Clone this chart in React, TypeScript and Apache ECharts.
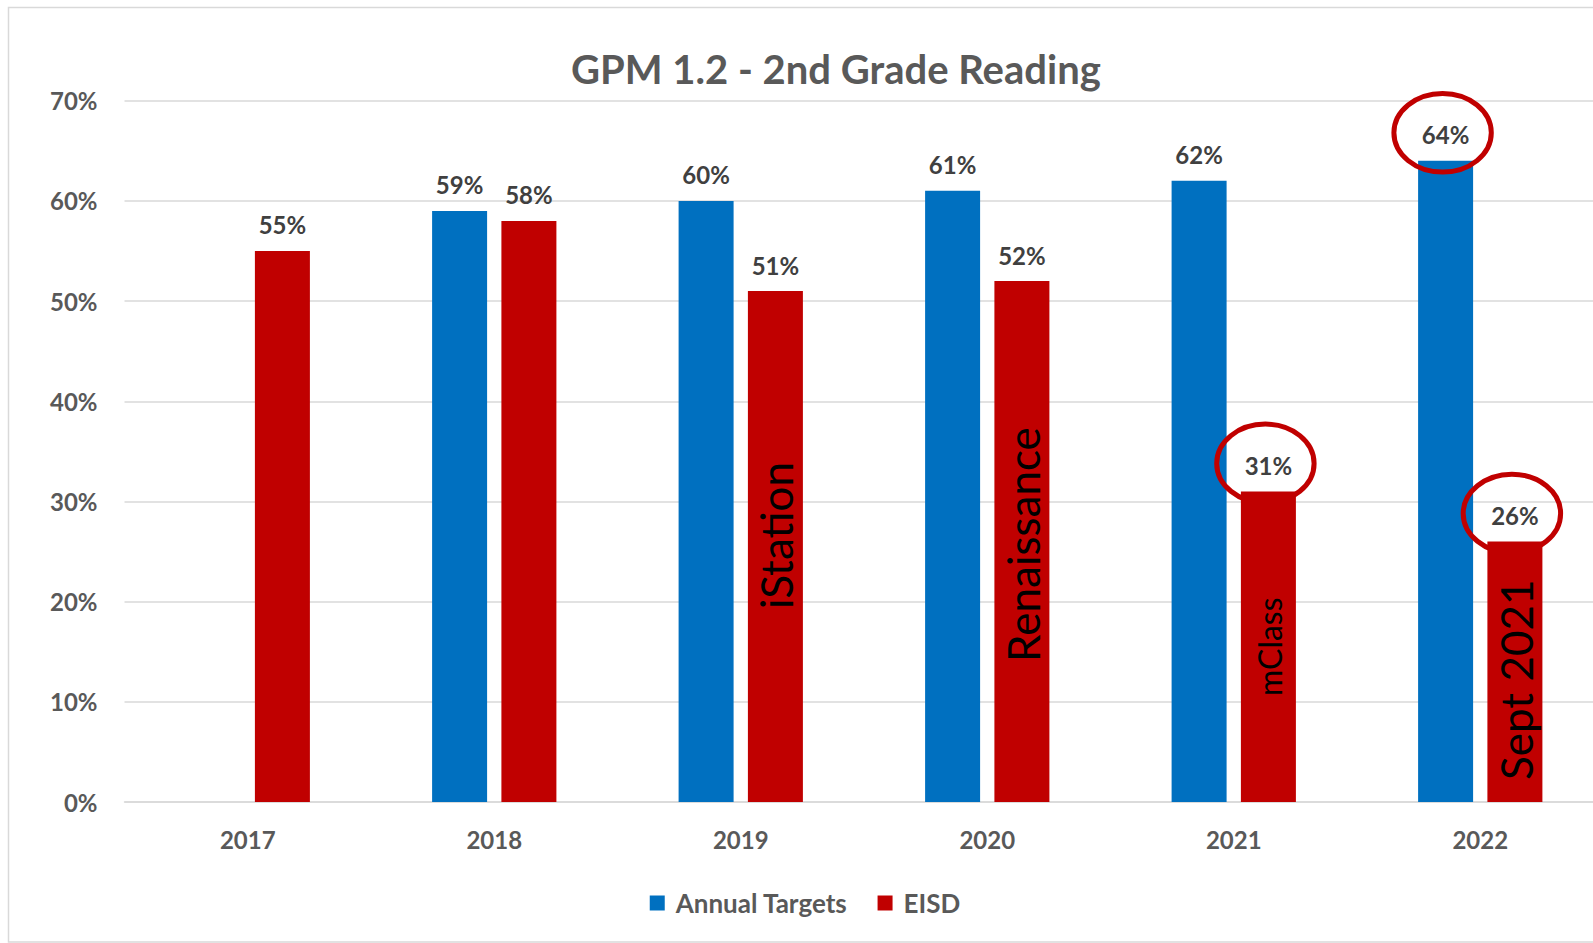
import React, { useEffect, useRef } from "react";
import * as echarts from "echarts";

const years = ["2017", "2018", "2019", "2020", "2021", "2022"];
const annualTargets: (number | null)[] = [null, 59, 60, 61, 62, 64];
const eisd: number[] = [55, 58, 51, 52, 31, 26];
const yTicks = [0, 10, 20, 30, 40, 50, 60, 70];

// circled value labels: [year, series index (0 = Annual Targets, 1 = EISD), value]
const circled: [string, number, number][] = [
  ["2022", 0, 64],
  ["2021", 1, 31],
  ["2022", 1, 26],
];

// rotated notes written inside the EISD bars: [year, note, anchor value]
const notes: [string, string, number][] = [
  ["2019", "iStation", 26.6],
  ["2020", "Renaissance", 25.7],
  ["2021", "mClass", 15.5],
  ["2022", "Sept 2021", 12.2],
];

const FONT = "Lato, 'Open Sans', sans-serif";
const BLUE = "#0070C0";
const RED = "#C00000";
const BAR_W = 55;
const BAR_GAP = 0.26;
const HALF_OFFSET = (BAR_W + BAR_W * BAR_GAP) / 2;
const noteSize: Record<string, number> = { mClass: 32 };

export default function App() {
  const ref = useRef<HTMLDivElement>(null);
  useEffect(() => {
    if (!ref.current) return;
    const chart = echarts.init(ref.current, undefined, { renderer: "svg" });
    const labelStyle = {
      show: true,
      position: "top" as const,
      distance: 14,
      formatter: "{c}%",
      fontFamily: FONT,
      fontWeight: "bold" as const,
      fontSize: 24,
      color: "#404040",
    };
    chart.setOption({
      animation: false,
      backgroundColor: "#ffffff",
      title: {
        text: "GPM 1.2 - 2nd Grade Reading",
        left: 566,
        top: 44,
        textStyle: {
          fontFamily: FONT,
          fontWeight: "bold",
          fontSize: 40,
          color: "#595959",
        },
      },
      graphic: [
        {
          type: "rect",
          shape: { x: 8.5, y: 7.5, width: 1640, height: 934.5 },
          style: { fill: "none", stroke: "#d9d9d9", lineWidth: 1.5 },
          silent: true,
          z: -1,
        },
      ],
      legend: {
        data: ["Annual Targets", "EISD"],
        left: "center",
        top: 885,
        icon: "rect",
        itemWidth: 15,
        itemHeight: 15,
        itemGap: 30,
        textStyle: {
          fontFamily: FONT,
          fontWeight: "bold",
          fontSize: 26,
          color: "#595959",
          padding: [0, 0, 0, 6],
        },
      },
      grid: { left: 124.5, right: 6.5, top: 100.7, bottom: 141 },
      xAxis: {
        type: "category",
        data: years,
        axisLine: { lineStyle: { color: "#d9d9d9", width: 1.5 } },
        axisTick: { show: false },
        axisLabel: {
          margin: 25,
          fontFamily: FONT,
          fontWeight: "bold",
          fontSize: 24,
          color: "#595959",
        },
      },
      yAxis: {
        type: "value",
        min: yTicks[0],
        max: yTicks[yTicks.length - 1],
        interval: 10,
        axisLine: { show: false },
        axisTick: { show: false },
        splitLine: { lineStyle: { color: "#d9d9d9", width: 1.5 } },
        axisLabel: {
          margin: 27,
          formatter: "{value}%",
          fontFamily: FONT,
          fontWeight: "bold",
          fontSize: 24,
          color: "#595959",
        },
      },
      series: [
        {
          name: "Annual Targets",
          type: "bar",
          data: annualTargets,
          barWidth: BAR_W,
          barGap: `${BAR_GAP * 100}%`,
          itemStyle: { color: BLUE },
          label: labelStyle,
        },
        {
          name: "EISD",
          type: "bar",
          data: eisd,
          barWidth: BAR_W,
          barGap: `${BAR_GAP * 100}%`,
          itemStyle: { color: RED },
          label: labelStyle,
        },
        {
          name: "circles",
          type: "custom",
          silent: true,
          z: 5,
          data: circled.map((c) => [years.indexOf(c[0]), c[2], c[1]]),
          renderItem: (_params: any, api: any) => {
            const p = api.coord([api.value(0), api.value(1)]);
            const side = api.value(2) === 0 ? -1 : 1;
            return {
              type: "ellipse",
              shape: {
                cx: p[0] + side * HALF_OFFSET - 3,
                cy: p[1] - 28,
                rx: 48.7,
                ry: 39.3,
              },
              style: { fill: "none", stroke: RED, lineWidth: 5 },
            };
          },
        },
        {
          name: "notes",
          type: "custom",
          silent: true,
          z: 5,
          data: notes.map((n) => [years.indexOf(n[0]), n[2], n[1]]),
          renderItem: (params: any, api: any) => {
            const p = api.coord([api.value(0), api.value(1)]);
            const txt = notes[params.dataIndex][1];
            return {
              type: "text",
              x: p[0] + HALF_OFFSET + 1,
              y: p[1],
              rotation: Math.PI / 2,
              style: {
                text: txt,
                fontFamily: FONT,
                fontSize: noteSize[txt] || 44,
                fill: "#000000",
                align: "center",
                verticalAlign: "middle",
              },
            };
          },
        },
      ],
    });
    return () => chart.dispose();
  }, []);
  return (
    <div
      style={{
        position: "fixed",
        left: 0,
        top: 0,
        width: 1593,
        height: 943,
        overflow: "hidden",
        background: "#fff",
      }}
    >
      <div ref={ref} style={{ width: 1610, height: 943 }} />
    </div>
  );
}
